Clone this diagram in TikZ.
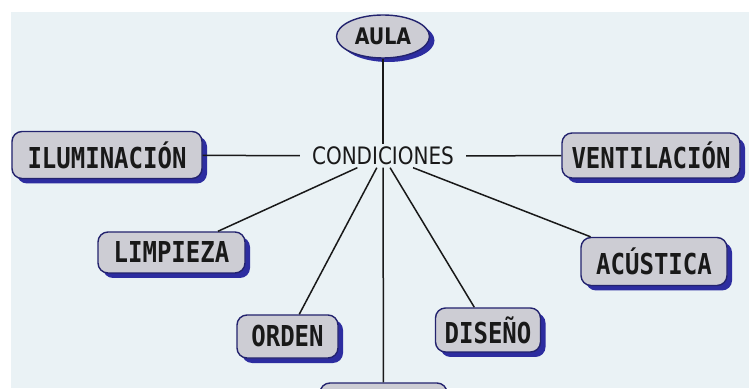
\documentclass[tikz,border=0pt]{standalone}
\usepackage{fontspec}
\usetikzlibrary{shapes.geometric,shadows}

\newfontfamily\boxfont{DejaVu Sans Mono}
\newfontfamily\mapfont{DejaVu Sans}
\newcommand\tall[1]{\scalebox{1}[1.2]{#1}}

\definecolor{bgblue}{RGB}{234,242,245}
\definecolor{boxgray}{RGB}{205,205,212}
\definecolor{boxline}{RGB}{35,35,110}
\definecolor{shadowblue}{RGB}{45,45,160}

\begin{document}
\begin{tikzpicture}[x=1pt, y=1pt,
    topic/.style={rectangle, rounded corners=10pt, draw=boxline, line width=1.4pt,
        fill=boxgray, text=black!90, inner sep=0pt,
        general shadow={fill=shadowblue, shadow xshift=5pt, shadow yshift=-5pt},
        font=\boxfont\bfseries\fontsize{24}{28}\selectfont},
    link/.style={line width=1.5pt, black!90}]

    \path[use as bounding box, clip] (0,0) rectangle (749,388);
    \fill[bgblue] (11,0) rectangle (749,376);

    % centre word and the root
    \node[minimum width=166pt, minimum height=23pt, inner sep=0pt, text=black!90,
        font=\mapfont\fontsize{20}{24}\selectfont] (cond) at (383,232) {\tall{CONDICIONES}};
    \node[ellipse, draw=boxline, line width=1.4pt, fill=boxgray, text=black!90,
        minimum width=93pt, minimum height=43pt, inner sep=0pt,
        general shadow={fill=shadowblue, shadow xshift=5pt, shadow yshift=-4pt},
        font=\mapfont\bfseries\fontsize{19}{23}\selectfont] (aula) at (383,351.5) {\tall{AULA}};

    % the conditions
    \node[topic, minimum width=190pt, minimum height=47pt] (ilum)   at (107,233)    {\tall{ILUMINACIÓN}};
    \node[topic, minimum width=178pt, minimum height=45pt] (vent)   at (651,232.5)  {\tall{VENTILACIÓN}};
    \node[topic, minimum width=147pt, minimum height=41pt] (limp)   at (171.5,135.5) {\tall{LIMPIEZA}};
    \node[topic, minimum width=146pt, minimum height=48pt] (acus)   at (654,126.5)  {\tall{ACÚSTICA}};
    \node[topic, minimum width=101pt, minimum height=43pt] (orden)  at (287.5,51.5) {\tall{ORDEN}};
    \node[topic, minimum width=105pt, minimum height=44pt] (diseno) at (488,58)     {\tall{DISEÑO}};
    \node[topic, minimum width=127pt, minimum height=45pt] (foot)   at (383.5,-17.5) {};

    \draw[link] (aula) -- (cond);
    \foreach \t in {ilum, vent, limp, acus, orden, diseno, foot} {
        \draw[link] (cond) -- (\t);
    }
\end{tikzpicture}
\end{document}
